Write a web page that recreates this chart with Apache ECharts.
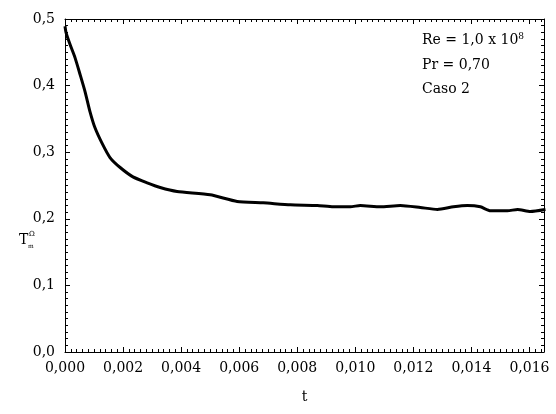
<!DOCTYPE html>
<html>
<head>
<meta charset="utf-8">
<script src="https://cdn.jsdelivr.net/npm/echarts@6/dist/echarts.min.js"></script>
<style>
  html, body { margin: 0; padding: 0; background: #fff; }
  #main { width: 556px; height: 414px; }
</style>
</head>
<body>
<div id="main"></div>
<script>
// tempo adimensional
const tempo = [0, 0.000034, 0.000172, 0.000345, 0.000517, 0.00069, 0.00086, 0.00103,
  0.00127, 0.00155, 0.0019, 0.00234, 0.00283, 0.00328, 0.00386, 0.0050, 0.00593,
  0.00683, 0.00776, 0.00869, 0.00924, 0.00983, 0.01017, 0.01086, 0.01155, 0.01224,
  0.01283, 0.01338, 0.01386, 0.01431, 0.01466, 0.01524, 0.01559, 0.01603, 0.01655];
const tMedia = [0.489, 0.480, 0.462, 0.442, 0.417, 0.391, 0.361, 0.337,
  0.314, 0.292, 0.277, 0.263, 0.254, 0.247, 0.241, 0.236, 0.226,
  0.224, 0.221, 0.220, 0.218, 0.218, 0.220, 0.218, 0.220, 0.217,
  0.214, 0.218, 0.220, 0.218, 0.212, 0.212, 0.214, 0.211, 0.214];
const legenda = ['Pr = 0,70', 'Caso 2'];

const fonte = 'DejaVu Serif';
const virgula = (v, d) => v.toFixed(d).replace('.', ',');

const eixoX = (top) => ({
  type: 'value', min: 0, max: 0.0165, interval: 0.002,
  position: top ? 'top' : 'bottom',
  name: top ? '' : 't', nameLocation: 'middle', nameGap: 38,
  nameTextStyle: { fontFamily: fonte, fontSize: 14, color: '#000' },
  axisLine: { show: true, onZero: false, lineStyle: { color: '#000', width: 1 } },
  axisTick: { show: true, inside: true, length: 5, lineStyle: { color: '#000' } },
  minorTick: { show: true, splitNumber: 10, length: 3, lineStyle: { color: '#000' } },
  axisLabel: {
    show: !top, showMaxLabel: false, margin: 9,
    fontFamily: fonte, fontSize: 14, color: '#000',
    formatter: v => virgula(v, 3)
  },
  splitLine: { show: false }
});

const eixoY = (right) => ({
  type: 'value', min: 0, max: 0.5, interval: 0.1,
  position: right ? 'right' : 'left',
  axisLine: { show: true, onZero: false, lineStyle: { color: '#000', width: 1 } },
  axisTick: { show: true, inside: true, length: 5, lineStyle: { color: '#000' } },
  minorTick: { show: true, splitNumber: 10, length: 3, lineStyle: { color: '#000' } },
  axisLabel: {
    show: !right, margin: 10,
    fontFamily: fonte, fontSize: 14, color: '#000',
    formatter: v => virgula(v, 1)
  },
  splitLine: { show: false }
});

const chart = echarts.init(document.getElementById('main'));
chart.setOption({
  animation: false,
  backgroundColor: '#fff',
  grid: { left: 65, right: 12, top: 19, bottom: 62 },
  xAxis: [eixoX(false), eixoX(true)],
  yAxis: [eixoY(false), eixoY(true)],
  series: [{
    type: 'line',
    data: tempo.map((t, i) => [t, tMedia[i]]),
    showSymbol: false,
    smooth: 0.2,
    lineStyle: { color: '#000', width: 3 }
  }],
  graphic: [
    {
      type: 'text', left: 422, top: 32,
      style: {
        text: '{n|Re = 1,0 x 10}{s|8}', font: '14px ' + fonte, fill: '#000',
        rich: {
          n: { fontFamily: fonte, fontSize: 14, fill: '#000' },
          s: { fontFamily: fonte, fontSize: 9, fill: '#000', verticalAlign: 'top', padding: [0, 0, 8, 0] }
        }
      }
    },
    { type: 'text', left: 422, top: 58, style: { text: legenda[0], font: '14px ' + fonte, fill: '#000' } },
    { type: 'text', left: 422, top: 82, style: { text: legenda[1], font: '14px ' + fonte, fill: '#000' } },
    { type: 'text', left: 19, top: 233, style: { text: 'T', font: '14px ' + fonte, fill: '#000' } },
    { type: 'text', left: 29, top: 231, style: { text: 'Ω', font: '7px ' + fonte, fill: '#000' } },
    { type: 'text', left: 28, top: 243, style: { text: 'm', font: '6px ' + fonte, fill: '#000' } }
  ]
});
</script>
</body>
</html>
